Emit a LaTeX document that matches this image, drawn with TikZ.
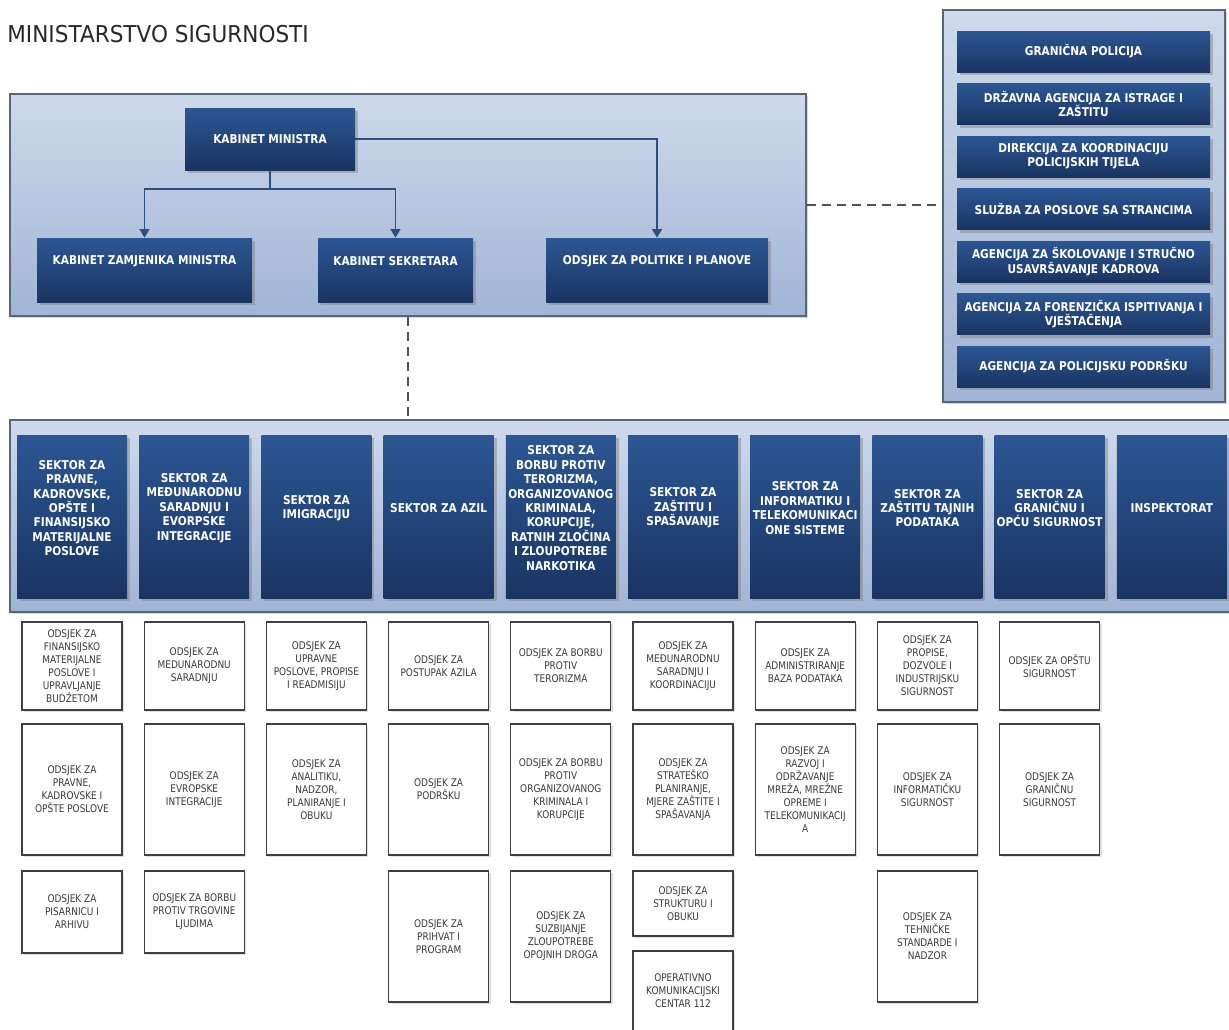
\documentclass[tikz,border=0pt]{standalone}
\usepackage{fontspec}
\usepackage{tikz}
\usetikzlibrary{arrows.meta}
\usetikzlibrary{shadows}

\newfontfamily\naslovfont{DejaVu Sans}[FakeStretch=0.93]
\newfontfamily\okvirfont{DejaVu Sans}[FakeStretch=0.87]
\newfontfamily\odsjekfont{DejaVu Sans}[FakeStretch=0.85]

\definecolor{plavagore}{RGB}{44,87,148}
\definecolor{plavadolje}{RGB}{25,52,98}
\definecolor{panelgore}{RGB}{206,218,235}
\definecolor{paneldolje}{RGB}{160,180,213}
\definecolor{panelrub}{RGB}{88,102,122}
\definecolor{linija}{RGB}{46,78,126}
\definecolor{crtica}{RGB}{70,84,104}
\definecolor{rubodsjek}{RGB}{64,64,64}
\definecolor{tekstodsjek}{RGB}{58,58,58}
\definecolor{naslovboja}{RGB}{40,40,40}

\tikzset{
panel/.style={draw=panelrub, line width=0.9pt, top color=panelgore, bottom color=paneldolje, inner sep=0pt, drop shadow={shadow xshift=0.04cm, shadow yshift=-0.04cm, opacity=0.3}},
tamno/.style={top color=plavagore, bottom color=plavadolje, inner sep=0pt, drop shadow={shadow xshift=0.06cm, shadow yshift=-0.06cm, opacity=0.45}},
natpis/.style={text=white, align=center, inner sep=0pt, font=\okvirfont\bfseries\fontsize{6.9}{8.2}\selectfont},
sektor/.style={tamno, minimum width=2.2cm, minimum height=3.26cm},
agencija/.style={tamno, natpis, minimum width=5.06cm, minimum height=0.82cm},
odsjek/.style={draw=rubodsjek, line width=0.65pt, fill=white, minimum width=2cm, inner sep=0pt, align=center, text=tekstodsjek, font=\odsjekfont\fontsize{6}{7.4}\selectfont, drop shadow={shadow xshift=0.04cm, shadow yshift=-0.04cm, opacity=0.25}},
veza/.style={draw=linija, line width=0.75pt, -{Triangle[length=0.17cm, width=0.2cm]}},
crtkano/.style={draw=crtica, line width=0.75pt, dash pattern=on 0.18cm off 0.12cm}
}

\begin{document}
\begin{tikzpicture}
\path[use as bounding box, clip] (0,0) rectangle (24.58,-20.6);
\fill[white] (0,0) rectangle (24.58,-20.6);

\node[anchor=base west, inner sep=0pt, text=naslovboja, font=\naslovfont\fontsize{13.2}{15}\selectfont] (naslov) at (0.14,-0.84) {MINISTARSTVO SIGURNOSTI};

\node[panel, minimum width=15.92cm, minimum height=4.44cm] (vrh) at (8.16,-4.10) {};
\node[tamno, natpis, minimum width=3.4cm, minimum height=1.24cm] (km) at (5.40,-2.78) {KABINET MINISTRA};
\node[tamno, minimum width=4.3cm, minimum height=1.28cm] (kzm) at (2.89,-5.40) {};
\node[natpis] (kzmt) at (2.89,-5.22) {KABINET ZAMJENIKA MINISTRA};
\node[tamno, minimum width=3.1cm, minimum height=1.28cm] (ks) at (7.91,-5.40) {};
\node[natpis] (kst) at (7.91,-5.22) {KABINET SEKRETARA};
\node[tamno, minimum width=4.44cm, minimum height=1.28cm] (opp) at (13.14,-5.40) {};
\node[natpis] (oppt) at (13.14,-5.22) {ODSJEK ZA POLITIKE I PLANOVE};

\coordinate (grana) at (5.40,-3.78);
\draw[veza] (km.south) -- (grana) -| (kzm.north);
\draw[veza] (grana) -| (ks.north);
\draw[veza] (km.east) -| (opp.north);

\node[panel, minimum width=5.64cm, minimum height=7.84cm] (agencije) at (21.68,-4.12) {};
\node[agencija] (a1) at (21.67,-1.03) {GRANIČNA POLICIJA};
\node[agencija] (a2) at (21.67,-2.08) {DRŽAVNA AGENCIJA ZA ISTRAGE I\\ZAŠTITU};
\node[agencija] (a3) at (21.67,-3.13) {DIREKCIJA ZA KOORDINACIJU\\POLICIJSKIH TIJELA};
\node[agencija] (a4) at (21.67,-4.18) {SLUŽBA ZA POSLOVE SA STRANCIMA};
\node[agencija] (a5) at (21.67,-5.23) {AGENCIJA ZA ŠKOLOVANJE I STRUČNO\\USAVRŠAVANJE KADROVA};
\node[agencija] (a6) at (21.67,-6.28) {AGENCIJA ZA FORENZIČKA ISPITIVANJA I\\VJEŠTAČENJA};
\node[agencija] (a7) at (21.67,-7.33) {AGENCIJA ZA POLICIJSKU PODRŠKU};

\node[panel, minimum width=24.6cm, minimum height=3.84cm] (sektori) at (12.5,-10.32) {};

\draw[crtkano] (vrh.east) -- (vrh.east -| agencije.west);
\draw[crtkano] (vrh.south) -- (vrh.south |- sektori.north);

\node[sektor] (s1) at (1.44,-10.33) {};
\node[natpis] (s1t) at (1.44,-10.16) {SEKTOR ZA\\PRAVNE,\\KADROVSKE,\\OPŠTE I\\FINANSIJSKO\\MATERIJALNE\\POSLOVE};
\node[sektor] (s2) at (3.884,-10.33) {};
\node[natpis] (s2t) at (3.884,-10.16) {SEKTOR ZA\\MEĐUNARODNU\\SARADNJU I\\EVORPSKE\\INTEGRACIJE};
\node[sektor] (s3) at (6.328,-10.33) {};
\node[natpis] (s3t) at (6.328,-10.16) {SEKTOR ZA\\IMIGRACIJU};
\node[sektor] (s4) at (8.772,-10.33) {};
\node[natpis] (s4t) at (8.772,-10.16) {SEKTOR ZA AZIL};
\node[sektor] (s5) at (11.216,-10.33) {};
\node[natpis] (s5t) at (11.216,-10.16) {SEKTOR ZA\\BORBU PROTIV\\TERORIZMA,\\ORGANIZOVANOG\\KRIMINALA,\\KORUPCIJE,\\RATNIH ZLOČINA\\I ZLOUPOTREBE\\NARKOTIKA};
\node[sektor] (s6) at (13.66,-10.33) {};
\node[natpis] (s6t) at (13.66,-10.16) {SEKTOR ZA\\ZAŠTITU I\\SPAŠAVANJE};
\node[sektor] (s7) at (16.104,-10.33) {};
\node[natpis] (s7t) at (16.104,-10.16) {SEKTOR ZA\\INFORMATIKU I\\TELEKOMUNIKACI\\ONE SISTEME};
\node[sektor] (s8) at (18.548,-10.33) {};
\node[natpis] (s8t) at (18.548,-10.16) {SEKTOR ZA\\ZAŠTITU TAJNIH\\PODATAKA};
\node[sektor] (s9) at (20.992,-10.33) {};
\node[natpis] (s9t) at (20.992,-10.16) {SEKTOR ZA\\GRANIČNU I\\OPĆU SIGURNOST};
\node[sektor] (s10) at (23.436,-10.33) {};
\node[natpis] (s10t) at (23.436,-10.16) {INSPEKTORAT};

\node[odsjek, minimum height=1.76cm] (o11) at (1.44,-13.32) {ODSJEK ZA\\FINANSIJSKO\\MATERIJALNE\\POSLOVE I\\UPRAVLJANJE\\BUDŽETOM};
\node[odsjek, minimum height=2.62cm] (o12) at (1.44,-15.79) {ODSJEK ZA\\PRAVNE,\\KADROVSKE I\\OPŠTE POSLOVE};
\node[odsjek, minimum height=1.64cm] (o13) at (1.44,-18.24) {ODSJEK ZA\\PISARNICU I\\ARHIVU};

\node[odsjek, minimum height=1.76cm] (o21) at (3.884,-13.32) {ODSJEK ZA\\MEDUNARODNU\\SARADNJU};
\node[odsjek, minimum height=2.62cm] (o22) at (3.884,-15.79) {ODSJEK ZA\\EVROPSKE\\INTEGRACIJE};
\node[odsjek, minimum height=1.64cm] (o23) at (3.884,-18.24) {ODSJEK ZA BORBU\\PROTIV TRGOVINE\\LJUDIMA};

\node[odsjek, minimum height=1.76cm] (o31) at (6.328,-13.32) {ODSJEK ZA\\UPRAVNE\\POSLOVE, PROPISE\\I READMISIJU};
\node[odsjek, minimum height=2.62cm] (o32) at (6.328,-15.79) {ODSJEK ZA\\ANALITIKU,\\NADZOR,\\PLANIRANJE I\\OBUKU};

\node[odsjek, minimum height=1.76cm] (o41) at (8.772,-13.32) {ODSJEK ZA\\POSTUPAK AZILA};
\node[odsjek, minimum height=2.62cm] (o42) at (8.772,-15.79) {ODSJEK ZA\\PODRŠKU};
\node[odsjek, minimum height=2.62cm] (o43) at (8.772,-18.73) {ODSJEK ZA\\PRIHVAT I\\PROGRAM};

\node[odsjek, minimum height=1.76cm] (o51) at (11.216,-13.32) {ODSJEK ZA BORBU\\PROTIV\\TERORIZMA};
\node[odsjek, minimum height=2.62cm] (o52) at (11.216,-15.79) {ODSJEK ZA BORBU\\PROTIV\\ORGANIZOVANOG\\KRIMINALA I\\KORUPCIJE};
\node[odsjek, minimum height=2.62cm] (o53) at (11.216,-18.73) {ODSJEK ZA\\SUZBIJANJE\\ZLOUPOTREBE\\OPOJNIH DROGA};

\node[odsjek, minimum height=1.76cm] (o61) at (13.66,-13.32) {ODSJEK ZA\\MEĐUNARODNU\\SARADNJU I\\KOORDINACIJU};
\node[odsjek, minimum height=2.62cm] (o62) at (13.66,-15.79) {ODSJEK ZA\\STRATEŠKO\\PLANIRANJE,\\MJERE ZAŠTITE I\\SPAŠAVANJA};
\node[odsjek, minimum height=1.3cm] (o63) at (13.66,-18.07) {ODSJEK ZA\\STRUKTURU I\\OBUKU};
\node[odsjek, minimum height=1.6cm] (o64) at (13.66,-19.82) {OPERATIVNO\\KOMUNIKACIJSKI\\CENTAR 112};

\node[odsjek, minimum height=1.76cm] (o71) at (16.104,-13.32) {ODSJEK ZA\\ADMINISTRIRANJE\\BAZA PODATAKA};
\node[odsjek, minimum height=2.62cm] (o72) at (16.104,-15.79) {ODSJEK ZA\\RAZVOJ I\\ODRŽAVANJE\\MREŽA, MREŽNE\\OPREME I\\TELEKOMUNIKACIJ\\A};

\node[odsjek, minimum height=1.76cm] (o81) at (18.548,-13.32) {ODSJEK ZA\\PROPISE,\\DOZVOLE I\\INDUSTRIJSKU\\SIGURNOST};
\node[odsjek, minimum height=2.62cm] (o82) at (18.548,-15.79) {ODSJEK ZA\\INFORMATIČKU\\SIGURNOST};
\node[odsjek, minimum height=2.62cm] (o83) at (18.548,-18.73) {ODSJEK ZA\\TEHNIČKE\\STANDARDE I\\NADZOR};

\node[odsjek, minimum height=1.76cm] (o91) at (20.992,-13.32) {ODSJEK ZA OPŠTU\\SIGURNOST};
\node[odsjek, minimum height=2.62cm] (o92) at (20.992,-15.79) {ODSJEK ZA\\GRANIČNU\\SIGURNOST};
\end{tikzpicture}
\end{document}
